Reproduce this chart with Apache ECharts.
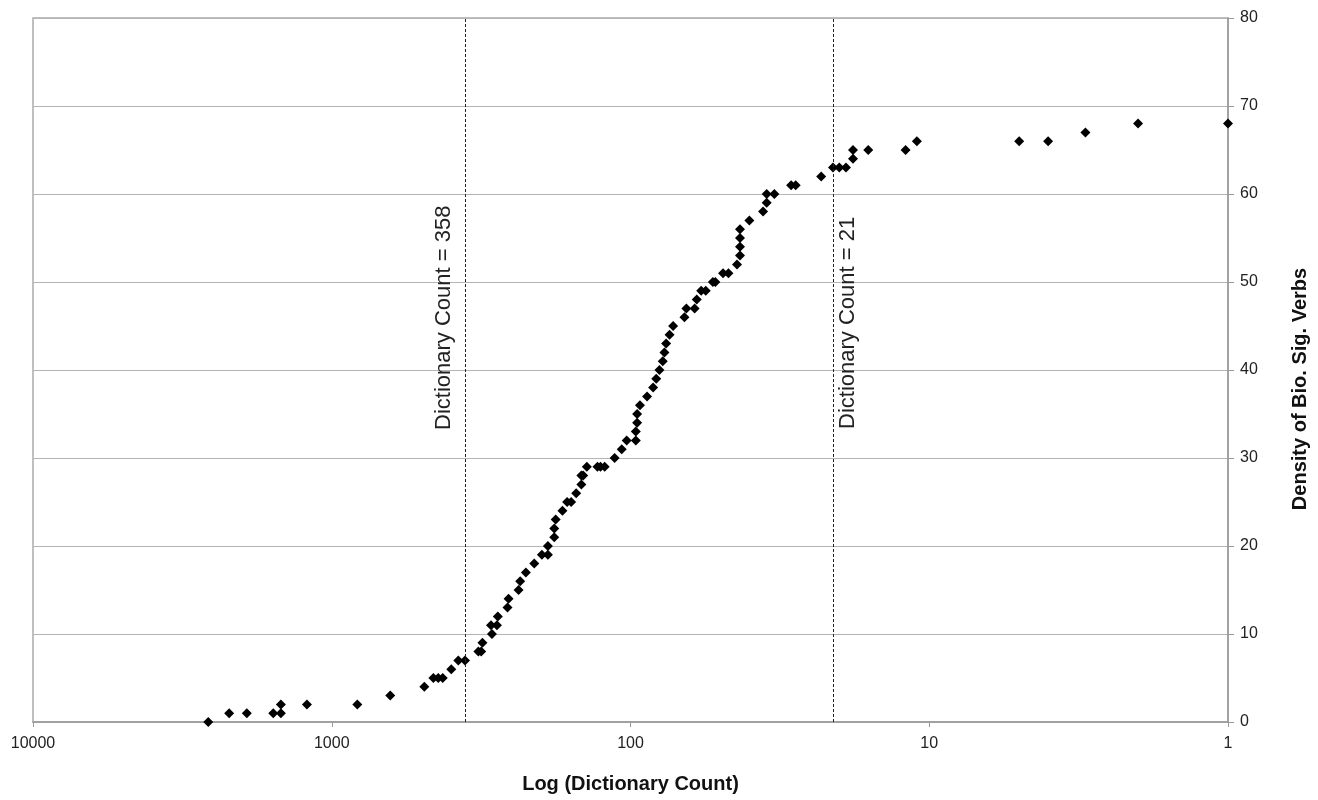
<!DOCTYPE html>
<html>
<head>
<meta charset="utf-8">
<script src="https://cdn.jsdelivr.net/npm/echarts@6/dist/echarts.min.js"></script>
<style>
  html, body { margin: 0; padding: 0; background: #fff; }
  #chart { width: 1318px; height: 800px; }
</style>
</head>
<body>
<div id="chart"></div>
<script>
// dictionary count of each verb
var counts = [2590, 2205, 1924, 1570, 1480, 1480, 1211, 821, 637, 490, 457, 440, 425, 398, 377, 358,
  323, 316, 313, 291, 293, 280, 278, 258, 256, 237, 234, 224, 210, 198, 189, 189, 180, 180, 178,
  169, 163, 158, 152, 146, 146, 144, 140, 129, 126, 122, 113, 107, 103, 96, 96, 95, 95, 93, 88,
  84, 82, 80, 78, 77, 76, 74, 72, 66, 65, 61, 60, 58, 56, 53, 52, 49, 47, 44, 43, 43, 43, 43,
  40, 36, 35, 35, 33, 29, 28, 23, 21, 20, 19, 18, 18, 16, 12, 11, 5, 4, 3, 2, 1]

// density of bio. sig. verbs for the same points
var density = [0, 1, 1, 1, 1, 2, 2, 2, 3, 4, 5, 5, 5, 6, 7, 7,
  8, 8, 9, 10, 11, 11, 12, 13, 14, 15, 16, 17, 18, 19, 19, 20, 21, 22, 23,
  24, 25, 25, 26, 27, 28, 28, 29, 29, 29, 29, 30, 31, 32, 32, 33, 34, 35, 36, 37,
  38, 39, 40, 41, 42, 43, 44, 45, 46, 47, 47, 48, 49, 49, 50, 50, 51, 51, 52, 53, 54, 55, 56,
  57, 58, 59, 60, 60, 61, 61, 62, 63, 63, 63, 64, 65, 65, 65, 66, 66, 66, 67, 68, 68]

// cut-off lines
var cutoffs = [358, 21]
var cutoffLabels = ['Dictionary Count = 358', 'Dictionary Count = 21']

var font = "'Liberation Sans', Arial, sans-serif"

var points = counts.map(function (c, i) { return [c, density[i]] })

var myChart = echarts.init(document.getElementById('chart'))

var option = {
  animation: false,
  backgroundColor: '#fff',
  grid: {
    left: 33, right: 90, top: 18, bottom: 78,
    show: true, borderColor: '#aaa', borderWidth: 1.5
  },
  xAxis: {
    type: 'log',
    logBase: 10,
    min: 1,
    max: 10000,
    inverse: true,
    name: 'Log (Dictionary Count)',
    nameLocation: 'middle',
    nameGap: 52,
    nameTextStyle: { fontFamily: font, fontSize: 20, fontWeight: 'bold', color: '#111' },
    axisLine: { lineStyle: { color: '#999', width: 1.5 } },
    axisTick: { show: true, length: 5, lineStyle: { color: '#999' } },
    axisLabel: {
      fontFamily: font, fontSize: 16, color: '#222', margin: 14,
      formatter: function (v) { return String(Math.round(v)) }
    },
    splitLine: { show: false },
    minorTick: { show: false }
  },
  yAxis: {
    type: 'value',
    position: 'right',
    min: 0,
    max: 80,
    interval: 10,
    name: 'Density of Bio. Sig. Verbs',
    nameLocation: 'middle',
    nameRotate: 90,
    nameGap: 62,
    nameTextStyle: { fontFamily: font, fontSize: 20, fontWeight: 'bold', color: '#111', padding: [0, 38, 0, 0] },
    axisLine: { show: true, lineStyle: { color: '#999', width: 1.5 } },
    axisTick: { show: true, length: 6, lineStyle: { color: '#999' } },
    axisLabel: { fontFamily: font, fontSize: 16, color: '#222', margin: 12 },
    splitLine: { show: true, lineStyle: { color: '#b5b5b5', width: 1.2 } }
  },
  series: [{
    type: 'scatter',
    data: points,
    symbol: 'diamond',
    symbolSize: 10,
    itemStyle: { color: '#000', opacity: 1 },
    markLine: {
      silent: true,
      symbol: 'none',
      lineStyle: { color: '#222', type: [3, 2], width: 1 },
      label: {
        fontFamily: font, fontSize: 22, color: '#222',
        formatter: function (p) { return cutoffLabels[p.dataIndex] }
      },
      data: [
        { xAxis: cutoffs[0], label: { position: 'insideStartTop', distance: 10, padding: [0, 0, 0, 282] } },
        { xAxis: cutoffs[1], label: { position: 'insideStartBottom', distance: 4, padding: [0, 0, 0, 289] } }
      ]
    }
  }]
}

myChart.setOption(option)
</script>
</body>
</html>
